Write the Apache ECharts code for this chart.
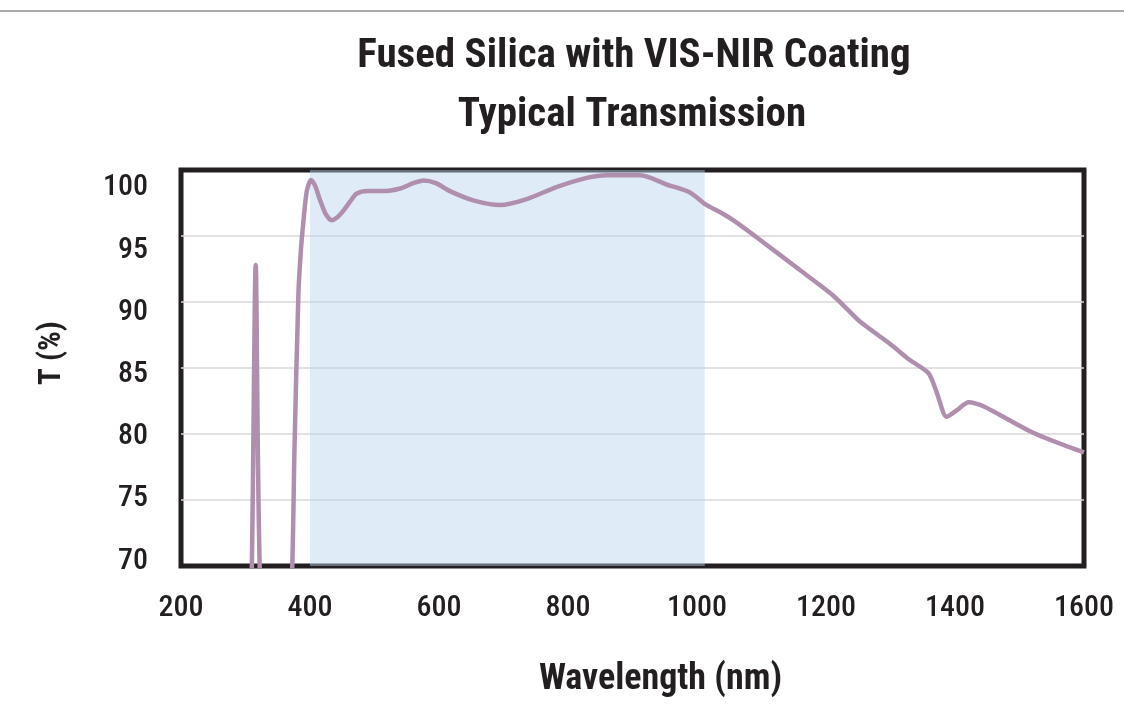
<!DOCTYPE html>
<html>
<head>
<meta charset="utf-8">
<script src="https://cdn.jsdelivr.net/npm/echarts@6/dist/echarts.min.js"></script>
<style>
  html, body { margin: 0; padding: 0; background: #ffffff; }
  #chart { width: 1124px; height: 715px; }
</style>
</head>
<body>
<div id="chart"></div>
<script>
// ---- data ----
const titleLines = ['Fused Silica with VIS-NIR Coating', 'Typical Transmission'];
const xAxisName = 'Wavelength (nm)';
const yAxisName = 'T (%)';
const xTicks = [200, 400, 600, 800, 1000, 1200, 1400, 1600];
const yTicks = [70, 75, 80, 85, 90, 95, 100];
const shadeRange = [400, 1012];   // VIS-NIR coating band (nm)

const wavelength = [300, 309, 315.8, 323, 345, 370, 376, 382, 386, 390, 395, 401.5, 408, 415, 424, 433.6, 442, 451.6, 462, 472, 490, 513, 540, 560, 576, 595, 617, 653, 695, 736, 782, 829, 860, 912, 953, 989, 1013, 1036, 1056, 1098, 1160, 1211, 1234, 1253, 1300, 1330, 1359, 1372, 1387, 1403, 1421, 1444, 1521, 1600];
const transmission = [60, 67.8, 92.8, 68.3, 55, 66.8, 79, 90.6, 94.0, 96.2, 98.4, 99.25, 98.8, 97.8, 96.7, 96.2, 96.4, 96.9, 97.6, 98.2, 98.4, 98.4, 98.6, 99.0, 99.2, 99.0, 98.4, 97.7, 97.35, 97.8, 98.7, 99.4, 99.6, 99.6, 98.9, 98.3, 97.4, 96.8, 96.2, 94.7, 92.4, 90.5, 89.4, 88.5, 86.8, 85.6, 84.6, 83.1, 81.3, 81.8, 82.4, 82.1, 80.1, 78.6];

// ---- chart ----
const FONT = '"Roboto Condensed", "Liberation Sans", sans-serif';
const INK = '#231f20';
const seriesData = wavelength.map((w, i) => [w, transmission[i]]);

const chart = echarts.init(document.getElementById('chart'), null, { renderer: 'canvas' });
chart.setOption({
  backgroundColor: '#ffffff',
  animation: false,
  graphic: [
    { type: 'line', shape: { x1: 0, y1: 11, x2: 1124, y2: 11 }, style: { stroke: '#8c8c8c', lineWidth: 1.5 }, silent: true },
    { type: 'text', x: 634, y: 57, style: { text: titleLines[0], fill: INK, font: 'bold 41px ' + FONT, textAlign: 'center', textVerticalAlign: 'middle' } },
    { type: 'text', x: 632, y: 116, style: { text: titleLines[1], fill: INK, font: 'bold 41px ' + FONT, textAlign: 'center', textVerticalAlign: 'middle' } }
  ],
  grid: {
    left: 181, right: 40, top: 170, bottom: 149,
    show: true, borderColor: INK, borderWidth: 5, backgroundColor: '#ffffff',
    containLabel: false
  },
  xAxis: {
    type: 'value', min: xTicks[0], max: xTicks[xTicks.length - 1], interval: 200,
    name: xAxisName, nameLocation: 'middle', nameGap: 96,
    nameTextStyle: { fontFamily: FONT, fontWeight: 'bold', fontSize: 36, color: INK, padding: [0, 0, 0, 56] },
    axisLine: { show: false }, axisTick: { show: false }, splitLine: { show: false },
    axisLabel: { fontFamily: FONT, fontWeight: 500, fontSize: 30, color: INK, margin: 27, formatter: v => String(v) }
  },
  yAxis: [
    {
      type: 'value', min: yTicks[0], max: yTicks[yTicks.length - 1], interval: 5,
      name: yAxisName, nameLocation: 'middle', nameGap: 113, nameRotate: 90,
      nameTextStyle: { fontFamily: FONT, fontWeight: 'bold', fontSize: 31, color: INK, padding: [0, 0, 0, 30] },
      axisLine: { show: false }, axisTick: { show: false },
      axisLabel: { show: false },
      splitLine: { show: true, showMinLine: false, showMaxLine: false, lineStyle: { color: '#d8d8d8', width: 1.5 } }
    },
    {
      // label-only axis: the reference's tick labels sit slightly inside the gridline positions
      type: 'value', min: 69.6, max: 101.44, position: 'left',
      axisLine: { show: false }, axisTick: { show: false }, splitLine: { show: false },
      axisLabel: { customValues: yTicks, fontFamily: FONT, fontWeight: 500, fontSize: 30, color: INK, margin: 33, formatter: v => String(v) }
    }
  ],
  series: [{
    type: 'line', xAxisIndex: 0, yAxisIndex: 0,
    data: seriesData, showSymbol: false, smooth: 0.25, clip: true,
    lineStyle: { color: '#b08fae', width: 4.5 },
    z: 3,
    markArea: {
      silent: true,
      itemStyle: { color: 'rgba(184,211,235,0.45)' },
      data: [[{ xAxis: shadeRange[0] }, { xAxis: shadeRange[1] }]]
    }
  }]
});
</script>
</body>
</html>
